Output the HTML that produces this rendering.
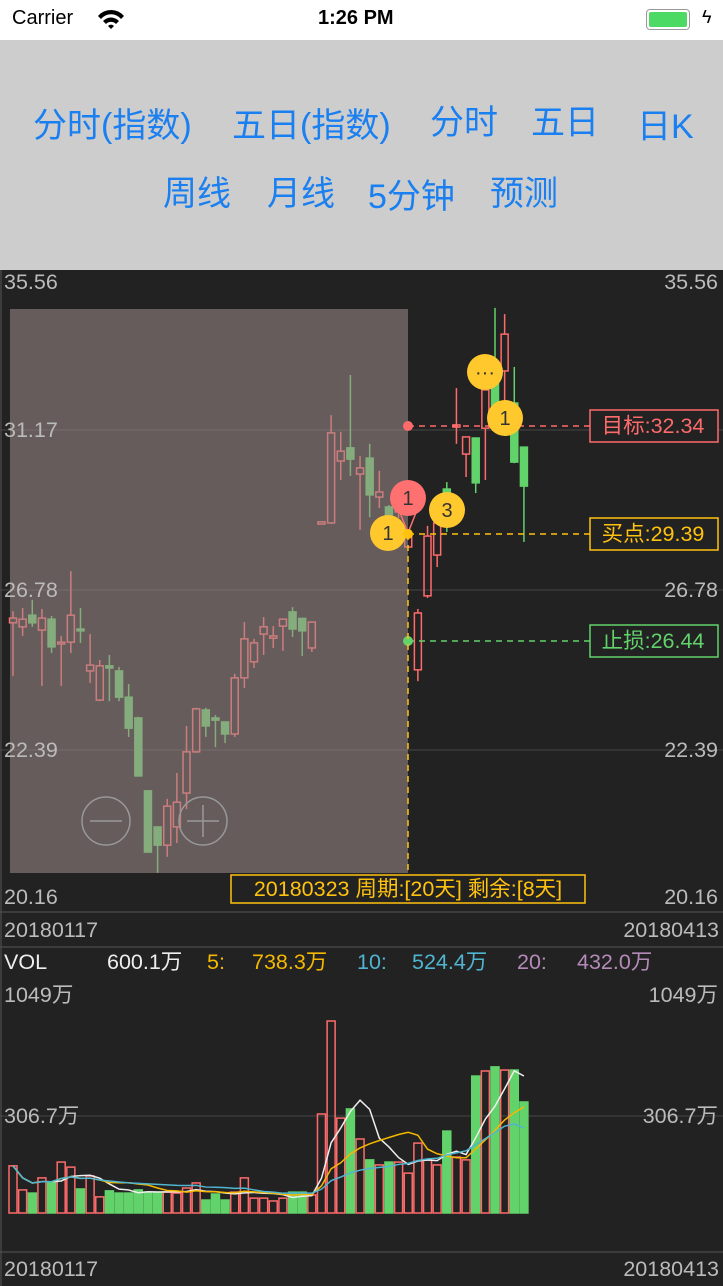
<!DOCTYPE html>
<html><head><meta charset="utf-8">
<style>
body{margin:0;width:723px;height:1286px;overflow:hidden;background:#222;font-family:"Liberation Sans","Noto Sans CJK SC",sans-serif;position:relative}
.st{position:absolute;left:0;top:0;width:723px;height:40px;background:#fff}
.hd{position:absolute;left:0;top:40px;width:723px;height:230px;background:#cdcdcd}
.tb{position:absolute;color:#1a7ff0;font-size:34px;white-space:nowrap}
</style></head><body>
<div class="st">
<span style="position:absolute;left:12px;top:7px;font-size:20px">Carrier</span>
<svg style="position:absolute;left:96px;top:8px" width="30" height="22"><path d="M2 8 A17 17 0 0 1 28 8 L25 11 A13 13 0 0 0 5 11Z M7 13 A11 11 0 0 1 23 13 L20 16 A7 7 0 0 0 10 16Z M12 18 A4 4 0 0 1 18 18 L15 21Z" fill="#000"/></svg>
<span style="position:absolute;left:318px;top:7px;font-size:20px;font-weight:bold">1:26 PM</span>
<div style="position:absolute;left:646px;top:9px;width:42px;height:19px;border:1.5px solid #999;border-radius:4px"><div style="margin:2px;height:15px;background:#4cd964;border-radius:2px"></div></div>
<span style="position:absolute;left:702px;top:7px;font-size:18px">ϟ</span>
</div>
<div class="hd">
<span class="tb" style="left:33px;top:58px">分时(指数)</span>
<span class="tb" style="left:232px;top:58px">五日(指数)</span>
<span class="tb" style="left:430px;top:55px">分时</span>
<span class="tb" style="left:531px;top:55px">五日</span>
<span class="tb" style="left:637px;top:59px">日K</span>
<span class="tb" style="left:163px;top:126px">周线</span>
<span class="tb" style="left:267px;top:126px">月线</span>
<span class="tb" style="left:368px;top:129px">5分钟</span>
<span class="tb" style="left:490px;top:126px">预测</span>
</div>
<svg id="c" style="position:absolute;left:0;top:0" width="723" height="1286" font-family="Liberation Sans, Noto Sans CJK SC, sans-serif"></svg>
<script>
const opens=[25.88,25.77,26.09,25.68,25.98,25.30,25.35,25.71,24.56,23.76,24.70,24.56,23.84,23.27,21.27,20.28,19.78,20.28,21.21,22.34,23.49,23.27,23.16,22.83,24.37,24.81,25.57,25.46,25.79,26.18,26.00,25.19,28.59,28.62,30.32,30.68,29.96,30.40,29.33,29.06,28.92,27.96,24.59,26.62,27.74,29.55,31.25,30.51,30.95,31.22,32.82,32.79,31.91,30.70];
const closes=[26.01,25.98,25.88,26.01,25.22,25.35,26.09,25.66,24.72,24.70,24.64,23.84,22.99,21.68,19.59,19.78,20.85,20.96,22.34,23.52,23.05,23.21,22.83,24.37,25.44,25.33,25.77,25.52,25.98,25.71,25.66,25.90,28.65,31.09,30.59,30.37,30.13,29.39,29.47,28.84,29.09,28.34,26.15,28.26,28.62,29.44,31.31,30.98,29.72,32.27,31.44,33.80,30.29,29.63];
const highs=[26.20,26.29,26.51,26.26,26.07,25.52,27.30,26.29,25.57,24.86,25.00,24.67,24.20,23.30,21.28,20.29,21.05,21.76,23.05,23.55,23.55,23.35,23.17,24.48,25.90,25.44,26.04,25.79,26.00,26.31,26.01,25.91,28.66,31.58,31.12,32.68,30.46,30.79,30.05,29.11,29.25,28.36,26.26,28.54,28.63,29.74,32.32,30.99,30.96,32.49,34.52,34.35,32.90,30.71];
const lows=[24.42,25.52,25.77,24.15,25.05,24.15,25.05,25.33,24.23,23.73,23.73,23.73,22.75,21.66,19.57,19.02,19.46,19.84,20.77,22.31,22.75,22.47,22.58,22.75,24.09,24.64,25.00,25.19,25.11,25.49,24.97,25.08,28.58,28.59,29.80,29.91,28.43,28.78,29.03,28.56,28.76,27.93,24.28,26.56,27.41,28.37,30.79,29.88,29.44,29.80,31.25,31.25,30.26,28.10];
const volumes=[149,73,63,111,98,161,145,76,117,51,70,63,63,73,66,66,66,63,79,95,41,60,41,66,111,47,47,38,47,66,66,57,313,607,300,329,234,168,152,161,161,126,221,168,152,259,177,168,433,449,462,452,452,351];
const priceTicks=["35.56","31.17","26.78","22.39","20.16"];
const volTicks=["1049万","306.7万"];
const dates=["20180117","20180413"];
const levels=[32.34,29.39,26.44];

const svg=document.getElementById('c');
const NS='http://www.w3.org/2000/svg';
function el(t,a,txt){const e=document.createElementNS(NS,t);for(const k in a)e.setAttribute(k,a[k]);if(txt!=null)e.textContent=txt;svg.appendChild(e);return e;}
const xAt=i=>13+i*9.64;
const yP=p=>430+(31.17-p)*36.45;
const yV=v=>1213-v*0.3163;
const RED='#ff6b6b',GRN='#62d26b';
const FS=21.5;

let g;
g=el('rect',{x:0,y:270,width:723,height:1016,fill:'#222'});

[430,590,750].forEach(y=>{g=el('line',{x1:0,x2:723,y1:y,y2:y,stroke:'#3a3a3a','stroke-width':1.5});});
[912,947,1252].forEach(y=>{g=el('line',{x1:0,x2:723,y1:y,y2:y,stroke:'#555','stroke-width':1});});
g=el('line',{x1:0,x2:723,y1:1116,y2:1116,stroke:'#3a3a3a','stroke-width':1.5});
g=el('line',{x1:1,x2:1,y1:270,y2:1286,stroke:'#555'});

for(let i=0;i<opens.length;i++){
 const up=closes[i]>=opens[i],col=up?RED:GRN,x=xAt(i);
 const top=yP(Math.max(opens[i],closes[i])),bot=yP(Math.min(opens[i],closes[i]));
 const w=el('line',{x1:x,x2:x,y1:yP(highs[i]),y2:up?top:yP(lows[i]),stroke:col,'stroke-width':1.5});
 
 if(up){const w2=el('line',{x1:x,x2:x,y1:bot,y2:yP(lows[i]),stroke:col,'stroke-width':1.5});}
 const b=el('rect',{x:x-3.5,y:top,width:7,height:Math.max(bot-top,1.5),fill:up?'none':col,stroke:col,'stroke-width':1.5});
 
}
g=el('rect',{x:10,y:309,width:398,height:564,fill:'rgb(160,140,140)','fill-opacity':0.55});


const pty=[282,430,590,750,897];
priceTicks.forEach((t,i)=>{
 g=el('text',{x:4,y:pty[i]+7,fill:'#bbb','font-size':FS},t);
 g=el('text',{x:718,y:pty[i]+7,fill:'#bbb','font-size':FS,'text-anchor':'end'},t);
});

const lvCol=[RED,'#ffc20e',GRN],lvTxt=['目标:','买点:','止损:'];
levels.forEach((v,i)=>{
 const y=i===1?534:(i===0?426:641);
 g=el('line',{x1:408,x2:590,y1:y,y2:y,stroke:lvCol[i],'stroke-width':1.5,'stroke-dasharray':'6,5'});
 if(i!==1){g=el('circle',{cx:408,cy:y,r:5,fill:lvCol[i]});}
 g=el('rect',{x:590,y:y-16,width:128,height:32,fill:'#222',stroke:lvCol[i],'stroke-width':1.5});
 g=el('text',{x:653,y:y+7,fill:lvCol[i],'font-size':FS,'text-anchor':'middle'},lvTxt[i]+v.toFixed(2));
});
g=el('line',{x1:408,x2:408,y1:534,y2:873,stroke:'#ffc20e','stroke-width':1.5,'stroke-dasharray':'6,5'});
g=el('rect',{x:231,y:875,width:354,height:28,fill:'#222',stroke:'#ffc20e','stroke-width':1.5});
g=el('text',{x:408,y:896,fill:'#ffc20e','font-size':FS,'text-anchor':'middle'},'20180323 周期:[20天] 剩余:[8天]');

function badge(cx,cy,fill,t,name){g=el('circle',{cx:cx,cy:cy,r:18,fill:fill});
 el('text',{x:cx,y:cy+7,fill:'#333','font-size':20,'text-anchor':'middle'},t);}
g=el('path',{d:'M399 510 L408 533 L417 510',fill:'none',stroke:'#ff7070','stroke-width':1.5});
badge(408,498,'#ff7070','1','signal-badge-red');
badge(388,533,'#ffc92e','1','signal-badge-1');
badge(447,510,'#ffc92e','3','signal-badge-3');
badge(485,372,'#ffc92e','···','signal-badge-more');
badge(505,418,'#ffc92e','1','signal-badge-top');
el('circle',{cx:408,cy:534,r:5,fill:'#ffc20e'});

g=el('circle',{cx:106,cy:821,r:24,fill:'none',stroke:'#999','stroke-width':1.5});
el('line',{x1:90,x2:122,y1:821,y2:821,stroke:'#999','stroke-width':1.5});
g=el('circle',{cx:203,cy:821,r:24,fill:'none',stroke:'#999','stroke-width':1.5});
el('line',{x1:187,x2:219,y1:821,y2:821,stroke:'#999','stroke-width':1.5});
el('line',{x1:203,x2:203,y1:805,y2:837,stroke:'#999','stroke-width':1.5});

[930,1269].forEach(y=>{
 g=el('text',{x:4,y:y+7,fill:'#bbb','font-size':FS},dates[0]);
 g=el('text',{x:719,y:y+7,fill:'#bbb','font-size':FS,'text-anchor':'end'},dates[1]);
});

for(let i=0;i<volumes.length;i++){
 const up=closes[i]>=opens[i],col=up?RED:GRN,x=xAt(i),y=yV(volumes[i]);
 const b=el('rect',{x:x-4,y:y,width:8,height:1213-y,fill:up?'none':col,stroke:col,'stroke-width':1.5});
 
}
function ma(n){return volumes.map((v,i)=>{const s=volumes.slice(Math.max(0,i-n+1),i+1);return s.reduce((a,b)=>a+b,0)/s.length;});}
[[ma(5),'#eee','ma5-line'],[ma(10),'#f5b800','ma10-line'],[ma(20),'#4fb5d0','ma20-line']].forEach(([d,c,n])=>{
 g=el('polyline',{points:d.map((v,i)=>xAt(i)+','+yV(v)).join(' '),fill:'none',stroke:c,'stroke-width':1.5});
 
});
volTicks.forEach((t,i)=>{const y=i?1116:995;
 g=el('text',{x:4,y:y+7,fill:'#bbb','font-size':FS},t);
 g=el('text',{x:718,y:y+7,fill:'#bbb','font-size':FS,'text-anchor':'end'},t);
});
const leg=[['VOL',4,'#eee'],['600.1万',107,'#eee'],['5:',207,'#f5b800'],['738.3万',252,'#f5b800'],['10:',357,'#4fb5d0'],['524.4万',412,'#4fb5d0'],['20:',517,'#b58ab8'],['432.0万',577,'#b58ab8']];
leg.forEach(l=>{g=el('text',{x:l[1],y:969,fill:l[2],'font-size':FS},l[0]);});
</script>
</body></html>
